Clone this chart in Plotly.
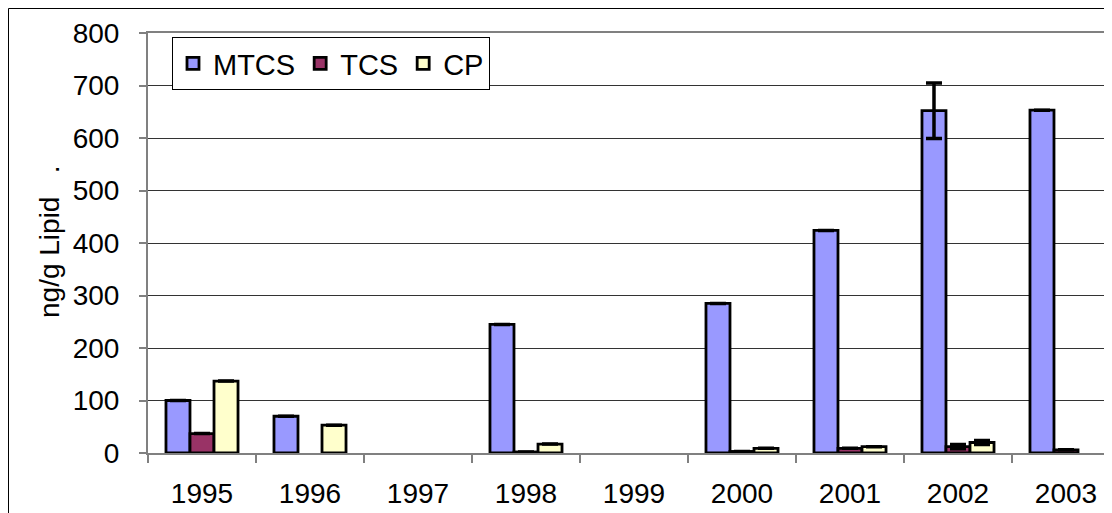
import plotly.graph_objects as go

years = ["1995", "1996", "1997", "1998", "1999", "2000", "2001", "2002", "2003"]
mtcs = [100, 70, None, 245, None, 285, 424, 652, 653]
tcs = [37, None, None, 2, None, 3, 9, 12, 6]
cp = [137, 53, None, 17, None, 9, 12, 20, None]
mtcs_err = [None, None, None, None, None, None, None, 53, None]
tcs_err = [None, None, None, None, None, None, None, 4, None]
cp_err = [None, None, None, None, None, None, None, 4, None]

series = [
    ("MTCS", mtcs, mtcs_err, "#9999FF"),
    ("TCS", tcs, tcs_err, "#993366"),
    ("CP", cp, cp_err, "#FFFFCC"),
]

fig = go.Figure()
for name, vals, err, color in series:
    fig.add_trace(go.Bar(
        name=name, x=years, y=vals,
        marker=dict(color=color, line=dict(color="black", width=2.8)),
        error_y=dict(type="data", array=err, visible=True, color="black",
                     thickness=3.5, width=8),
    ))

# figure pixel coords (page is offset by 8px body margin)
W, H = 1112, 513
L, T, B = 140, 25, 68
pw = W - L
ph = H - T - B

def px_x(p):
    return (p - L) / pw

def px_y(p):
    return (H - B - p) / ph

FONT = "Liberation Sans, Arial, sans-serif"

fig.update_layout(
    width=W, height=H,
    margin=dict(l=L, r=0, t=T, b=B, autoexpand=False),
    paper_bgcolor="white", plot_bgcolor="white",
    barmode="group", bargap=0.333, bargroupgap=0,
    font=dict(family=FONT, size=28, color="black"),
    showlegend=True,
    legend=dict(orientation="h", x=px_x(164), y=px_y(29), xanchor="left", yanchor="top",
                bordercolor="black", borderwidth=1, bgcolor="white",
                font=dict(size=29), itemwidth=30, tracegroupgap=0),
    xaxis=dict(range=[-0.5, 8.5], tickson="boundaries", ticks="outside",
               ticklen=8, tickcolor="#808080", tickwidth=1.5, showline=True,
               linecolor="#808080", linewidth=2, mirror=True, showgrid=False,
               tickfont=dict(size=28), ticklabelstandoff=14, fixedrange=True,
               automargin=False),
    yaxis=dict(range=[0, 800], dtick=100, ticks="outside", ticklen=7,
               tickcolor="#808080", tickwidth=1.5, showline=True, linecolor="#808080",
               linewidth=2, showgrid=True, gridcolor="#333333", gridwidth=1,
               tickfont=dict(size=28), ticklabelstandoff=14, zeroline=False,
               fixedrange=True, automargin=False),
    annotations=[dict(text="ng/g Lipid   .", textangle=-90, x=px_x(41), y=px_y(234),
                      xref="paper", yref="paper", showarrow=False,
                      font=dict(size=28), xanchor="center", yanchor="middle")],
    shapes=[dict(type="rect", xref="paper", yref="paper",
                 x0=px_x(0.5), x1=px_x(1130), y0=px_y(530), y1=px_y(0.5),
                 line=dict(color="black", width=1), layer="below")],
)

fig.write_html("out.html")
